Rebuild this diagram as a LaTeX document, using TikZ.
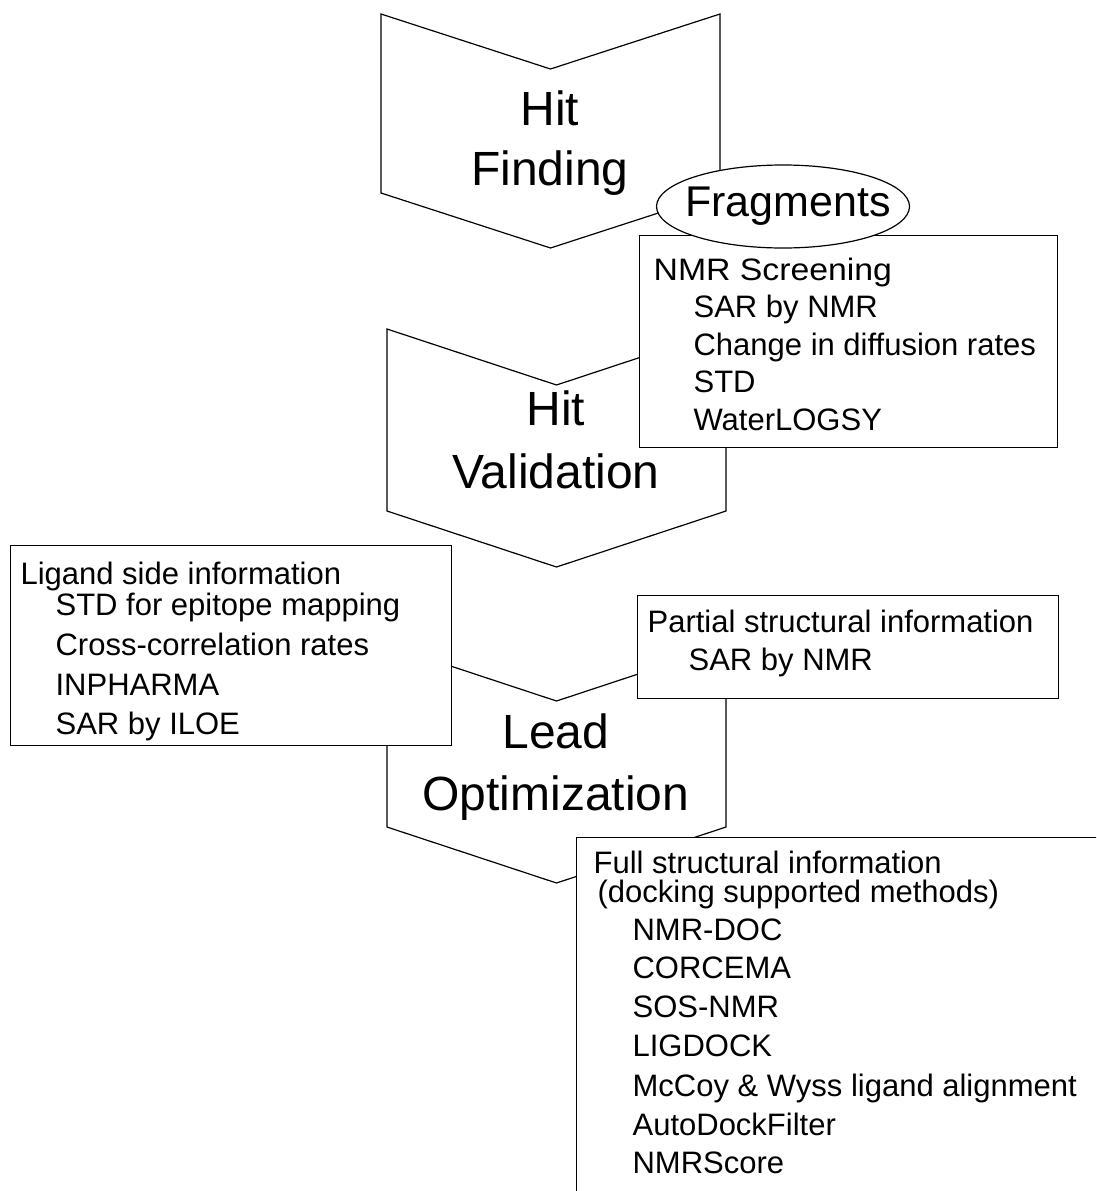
\documentclass[tikz,border=0pt]{standalone}
\usepackage{fontspec}
\setmainfont{Liberation Sans}
\usetikzlibrary{shapes.geometric}
\begin{document}
\begin{tikzpicture}[x=1pt,y=-1pt,line width=1.2pt,
  chev/.style={draw=black,fill=white,line join=miter},
  infobox/.style={draw=black,fill=white,rectangle,inner sep=0pt,anchor=north west},
  body/.style={inner sep=0pt,anchor=base west,font=\fontsize{31}{37}\selectfont},
  stage/.style={inner sep=0pt,anchor=base,font=\fontsize{48}{58}\selectfont},
  fragstyle/.style={draw=black,fill=white,ellipse,inner sep=0pt,minimum width=253pt,minimum height=83pt},
  fragtext/.style={inner sep=0pt,anchor=base,font=\fontsize{43}{50}\selectfont}
]
\clip (0,0) rectangle (1096,1191);
\fill[white] (0,0) rectangle (1096,1191);
% chevrons
\draw[chev] (381,14) -- (550.5,69) -- (720,14) -- (720,193) -- (550.5,248) -- (381,193) -- cycle;
\draw[chev] (387,329) -- (556.5,385) -- (726,329) -- (726,511) -- (556.5,567) -- (387,511) -- cycle;
\draw[chev] (387,645) -- (556.5,701) -- (726,645) -- (726,827) -- (556.5,883) -- (387,827) -- cycle;
% boxes
\node[infobox,minimum width=418pt,minimum height=212pt] (nmrbox) at (639,235) {};
\node[fragstyle] (frag) at (783,206.5) {};
\node[fragtext] (fragt) at (788,216) {Fragments};
\node[infobox,minimum width=441pt,minimum height=200pt] (ligbox) at (10,545) {};
\node[infobox,minimum width=421pt,minimum height=103pt] (partbox) at (637,595) {};
\node[infobox,minimum width=600pt,minimum height=420pt] (fullbox) at (576,837) {};
% stage labels
\node[stage] (hit1) at (550,125) {Hit};
\node[stage] (finding) at (550,185) {Finding};
\node[stage] (hit2) at (556,425) {Hit};
\node[stage] (valid) at (556,488) {Validation};
\node[stage] (lead) at (556,748) {Lead};
\node[stage] (optim) at (556,810) {Optimization};
% NMR screening box
\node[body] (n1) at (653,280) {\scalebox{1.09}[1]{NMR Screening}};
\node[body] (n2) at (693,317) {SAR by NMR};
\node[body] (n3) at (693,355) {Change in diffusion rates};
\node[body] (n4) at (693,392) {STD};
\node[body] (n5) at (693,430) {WaterLOGSY};
% ligand box
\node[body] (l1) at (20,584) {Ligand side information};
\node[body] (l2) at (55,615) {STD for epitope mapping};
\node[body] (l3) at (55,655) {Cross-correlation rates};
\node[body] (l4) at (55,695) {INPHARMA};
\node[body] (l5) at (55,734) {SAR by ILOE};
% partial box
\node[body] (p1) at (647,632) {Partial structural information};
\node[body] (p2) at (688,670) {SAR by NMR};
% full box
\node[body] (f1) at (593,873) {Full structural information};
\node[body] (f2) at (597,902) {(docking supported methods)};
\node[body] (f3) at (632,940) {NMR-DOC};
\node[body] (f4) at (632,978) {CORCEMA};
\node[body] (f5) at (632,1017) {SOS-NMR};
\node[body] (f6) at (632,1056) {LIGDOCK};
\node[body] (f7) at (632,1096) {McCoy \& Wyss ligand alignment};
\node[body] (f8) at (632,1135) {AutoDockFilter};
\node[body] (f9) at (632,1173) {NMRScore};
\end{tikzpicture}
\end{document}
